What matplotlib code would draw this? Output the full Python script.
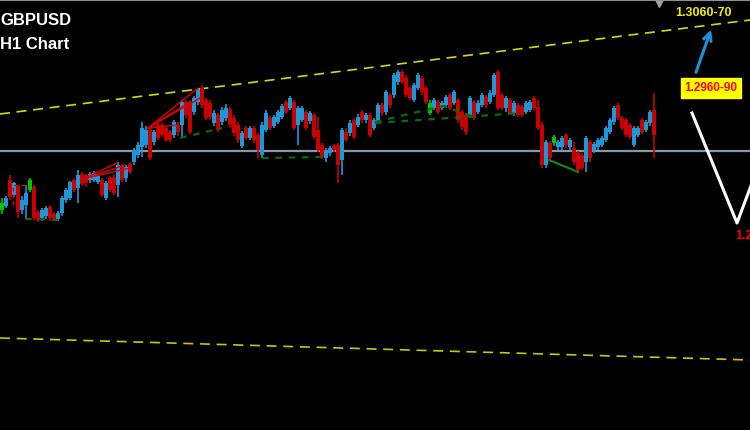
import matplotlib
matplotlib.use("Agg")
import matplotlib.pyplot as plt
from matplotlib.lines import Line2D

# GBPUSD H1 candles (left to right)
opens = [1.2890, 1.2894, 1.2920, 1.2905, 1.2914, 1.2890, 1.2895, 1.2910, 1.2913, 1.2888,
         1.2882, 1.2884, 1.2893, 1.2886, 1.2881, 1.2887, 1.2900, 1.2902, 1.2920, 1.2912,
         1.2926, 1.2925, 1.2920, 1.2920, 1.2918, 1.2920, 1.2902, 1.2922, 1.2923, 1.2915,
         1.2934, 1.2922, 1.2936, 1.2938, 1.2945, 1.2953, 1.2955, 1.2970, 1.2958, 1.2975,
         1.2975, 1.2972, 1.2968, 1.2965, 1.2975, 1.2975, 1.2998, 1.2998, 1.2988, 1.2998,
         1.3012, 1.3000, 1.2997, 1.2977, 1.2985, 1.2978, 1.2982, 1.2990, 1.2982, 1.2975,
         1.2954, 1.2972, 1.2962, 1.2972, 1.2965, 1.2945, 1.2970, 1.2982, 1.2974, 1.2978,
         1.2983, 1.2998, 1.2992, 1.2998, 1.2975, 1.2980, 1.2988, 1.2979, 1.2985, 1.2970,
         1.2955, 1.2942, 1.2947, 1.2954, 1.2955, 1.2940, 1.2968, 1.2967, 1.2980, 1.2975,
         1.2988, 1.2980, 1.2985, 1.2972, 1.2978, 1.2995, 1.2988, 1.3005, 1.3005, 1.3018,
         1.3028, 1.3022, 1.3012, 1.3000, 1.3012, 1.3022, 1.3012, 1.2987, 1.2992, 1.2998,
         1.2992, 1.2995, 1.3005, 1.2997, 1.3000, 1.2988, 1.2985, 1.2985, 1.2998, 1.2988,
         1.2995, 1.3003, 1.2998, 1.3005, 1.3028, 1.3005, 1.2992, 1.3000, 1.2987, 1.2995,
         1.2993, 1.2988, 1.2990, 1.3002, 1.2993, 1.2975, 1.2935, 1.2957, 1.2957, 1.2953,
         1.2953, 1.2965, 1.2953, 1.2952, 1.2947, 1.2945, 1.2938, 1.2958, 1.2950, 1.2953,
         1.2955, 1.2960, 1.2968, 1.2978, 1.2995, 1.2982, 1.2980, 1.2975, 1.2955, 1.2965,
         1.2980, 1.2970, 1.2977, 1.2990]
closes = [1.2897, 1.2902, 1.2903, 1.2917, 1.2888, 1.2900, 1.2907, 1.2920, 1.2882, 1.2880,
          1.2890, 1.2892, 1.2882, 1.2881, 1.2887, 1.2902, 1.2910, 1.2918, 1.2910, 1.2925,
          1.2916, 1.2917, 1.2926, 1.2927, 1.2924, 1.2905, 1.2917, 1.2910, 1.2907, 1.2935,
          1.2920, 1.2933, 1.2928, 1.2950, 1.2955, 1.2972, 1.2970, 1.2942, 1.2968, 1.2962,
          1.2965, 1.2960, 1.2960, 1.2978, 1.2968, 1.2998, 1.2985, 1.2968, 1.3002, 1.3010,
          1.2995, 1.2982, 1.2983, 1.2987, 1.2970, 1.2990, 1.2992, 1.2975, 1.2967, 1.2960,
          1.2967, 1.2962, 1.2972, 1.2960, 1.2950, 1.2975, 1.2987, 1.2972, 1.2983, 1.2988,
          1.2994, 1.2988, 1.3002, 1.2972, 1.2992, 1.2992, 1.2972, 1.2987, 1.2963, 1.2950,
          1.2943, 1.2950, 1.2952, 1.2950, 1.2935, 1.2970, 1.2960, 1.2977, 1.2963, 1.2983,
          1.2980, 1.2985, 1.2965, 1.2980, 1.2995, 1.2987, 1.3008, 1.2995, 1.3025, 1.3028,
          1.3018, 1.3005, 1.3002, 1.3015, 1.3025, 1.3008, 1.2998, 1.2997, 1.3000, 1.2988,
          1.2997, 1.3003, 1.2992, 1.3008, 1.2980, 1.2973, 1.2968, 1.3002, 1.2982, 1.2997,
          1.3005, 1.2995, 1.3007, 1.3025, 1.2992, 1.2992, 1.3002, 1.2987, 1.2997, 1.2985,
          1.2985, 1.2997, 1.2998, 1.2992, 1.2972, 1.2935, 1.2958, 1.2942, 1.2963, 1.2958,
          1.2962, 1.2955, 1.2960, 1.2938, 1.2930, 1.2932, 1.2962, 1.2942, 1.2956, 1.2960,
          1.2962, 1.2972, 1.2980, 1.2992, 1.2982, 1.2972, 1.2965, 1.2963, 1.2972, 1.2972,
          1.2968, 1.2978, 1.2988, 1.2965]
highs = [1.2902, 1.2904, 1.2925, 1.2918, 1.2915, 1.2904, 1.2915, 1.2922, 1.2915, 1.2890,
         1.2892, 1.2894, 1.2895, 1.2888, 1.2889, 1.2904, 1.2912, 1.2919, 1.2922, 1.2930,
         1.2928, 1.2926, 1.2928, 1.2929, 1.2926, 1.2922, 1.2919, 1.2924, 1.2925, 1.2938,
         1.2936, 1.2935, 1.2938, 1.2952, 1.2958, 1.2978, 1.2974, 1.2972, 1.2970, 1.2977,
         1.2977, 1.2974, 1.2970, 1.2980, 1.2978, 1.3000, 1.3000, 1.3000, 1.3004, 1.3012,
         1.3015, 1.3002, 1.3000, 1.2990, 1.2987, 1.2993, 1.2996, 1.2993, 1.2985, 1.2978,
         1.2969, 1.2974, 1.2974, 1.2974, 1.2967, 1.2978, 1.2990, 1.2984, 1.2985, 1.2990,
         1.2996, 1.3000, 1.3004, 1.3000, 1.2994, 1.2994, 1.2990, 1.2989, 1.2987, 1.2983,
         1.2957, 1.2952, 1.2954, 1.2956, 1.2957, 1.2972, 1.2972, 1.2980, 1.2982, 1.2986,
         1.2990, 1.2987, 1.2987, 1.2982, 1.2997, 1.2997, 1.3010, 1.3007, 1.3027, 1.3030,
         1.3030, 1.3025, 1.3014, 1.3017, 1.3027, 1.3024, 1.3014, 1.3000, 1.3002, 1.3000,
         1.2999, 1.3005, 1.3007, 1.3010, 1.3002, 1.2990, 1.2987, 1.3004, 1.3000, 1.3000,
         1.3007, 1.3005, 1.3010, 1.3027, 1.3030, 1.3007, 1.3004, 1.3002, 1.2999, 1.2997,
         1.2995, 1.2999, 1.3000, 1.3004, 1.3000, 1.2978, 1.2960, 1.2959, 1.2965, 1.2960,
         1.2964, 1.2967, 1.2962, 1.2958, 1.2949, 1.2947, 1.2964, 1.2960, 1.2958, 1.2962,
         1.2964, 1.2974, 1.2982, 1.2994, 1.2997, 1.2984, 1.2982, 1.2977, 1.2974, 1.2974,
         1.2982, 1.2980, 1.2990, 1.3007]
lows = [1.2886, 1.2892, 1.2900, 1.2903, 1.2882, 1.2886, 1.2880, 1.2908, 1.2880, 1.2878,
        1.2879, 1.2881, 1.2879, 1.2879, 1.2879, 1.2884, 1.2897, 1.2900, 1.2908, 1.2897,
        1.2914, 1.2913, 1.2917, 1.2918, 1.2916, 1.2903, 1.2900, 1.2908, 1.2905, 1.2903,
        1.2918, 1.2918, 1.2926, 1.2935, 1.2942, 1.2943, 1.2952, 1.2940, 1.2955, 1.2960,
        1.2963, 1.2958, 1.2958, 1.2962, 1.2964, 1.2962, 1.2982, 1.2966, 1.2985, 1.2995,
        1.2992, 1.2980, 1.2980, 1.2974, 1.2968, 1.2975, 1.2979, 1.2972, 1.2964, 1.2957,
        1.2952, 1.2960, 1.2960, 1.2957, 1.2942, 1.2942, 1.2968, 1.2970, 1.2972, 1.2976,
        1.2981, 1.2986, 1.2990, 1.2970, 1.2955, 1.2978, 1.2970, 1.2976, 1.2961, 1.2948,
        1.2941, 1.2938, 1.2944, 1.2948, 1.2917, 1.2925, 1.2958, 1.2964, 1.2961, 1.2973,
        1.2977, 1.2977, 1.2963, 1.2970, 1.2976, 1.2984, 1.2985, 1.2992, 1.3002, 1.3015,
        1.3016, 1.3003, 1.3000, 1.2998, 1.3010, 1.3005, 1.2996, 1.2985, 1.2990, 1.2986,
        1.2990, 1.2992, 1.2990, 1.2995, 1.2977, 1.2970, 1.2965, 1.2982, 1.2980, 1.2986,
        1.2993, 1.2992, 1.2996, 1.3003, 1.2990, 1.2990, 1.2988, 1.2985, 1.2984, 1.2983,
        1.2983, 1.2986, 1.2988, 1.2989, 1.2970, 1.2932, 1.2932, 1.2940, 1.2954, 1.2950,
        1.2950, 1.2952, 1.2950, 1.2935, 1.2928, 1.2930, 1.2928, 1.2938, 1.2947, 1.2950,
        1.2953, 1.2958, 1.2966, 1.2975, 1.2980, 1.2970, 1.2963, 1.2961, 1.2953, 1.2963,
        1.2966, 1.2968, 1.2974, 1.2942]
green_bars = [0, 7, 107, 138]

# levels and drawn objects (candle index, price)
hline_price = 1.2949
channel_top = [(-0.5, 1.2986), (187, 1.3080)]
channel_bottom = [(-0.5, 1.2762), (187, 1.2740)]
green_dashed = [
    [(5.75, 1.2881), (14.5, 1.2880)],
    [(44.5, 1.2962), (55, 1.2972)],
    [(65, 1.2942), (80, 1.2943)],
    [(93.25, 1.2978), (110.25, 1.2994), (118.75, 1.2982)],
    [(93.25, 1.2977), (130, 1.2987)],
]
green_solid = [(136.75, 1.2940), (144, 1.2928)]
red_lines = [
    [(21.25, 1.2923), (28.75, 1.2937)],
    [(21.25, 1.2922), (30.75, 1.2935)],
    [(21.25, 1.2922), (32, 1.2932)],
    [(36.5, 1.2972), (49, 1.3012)],
    [(36.5, 1.2972), (49.5, 1.3002)],
    [(36.5, 1.2972), (45.75, 1.2995)],
    [(36.5, 1.2972), (43.75, 1.2975)],
]
red_dashed = [(2.75, 1.2895), (2.75, 1.2915), (6.5, 1.2915)]
zigzag = [(172.5, 1.2987), (183.75, 1.2877), (187.5, 1.2917)]
arrow_from = (173.25, 1.3025)
arrow_to = (177.5, 1.3073)
target_up = "1.3060-70"
target_mid = "1.2960-90"
target_low = "1.2860"

blue = "#1c98d8"
red = "#c80000"
green = "#00c800"

fig = plt.figure(figsize=(7.5, 4.3), dpi=100)
fig.patch.set_facecolor("black")
ax = fig.add_axes([0, 0, 1, 1])
ax.set_facecolor("black")
ax.set_xlim(-0.5, 187)
ax.set_ylim(1.2670, 1.3100)
ax.axis("off")

ax.axhline(hline_price, color="#8a96a6", lw=1.6, zorder=1)

for pts, c in [(channel_top, "#d8d800"), (channel_bottom, "#c8c800")]:
    ax.plot([p[0] for p in pts], [p[1] for p in pts], color=c, lw=1.2,
            dashes=(6, 4), zorder=2)

xs = list(range(len(closes)))
cols = []
for i in xs:
    if i in green_bars:
        cols.append(green)
    elif closes[i] >= opens[i]:
        cols.append(blue)
    else:
        cols.append(red)
ax.vlines(xs, lows, highs, colors=cols, lw=1.2, zorder=3)
bottoms = [min(o, c) for o, c in zip(opens, closes)]
heights = [abs(c - o) for o, c in zip(opens, closes)]
ax.bar(xs, heights, bottom=bottoms, width=0.78, color=cols, linewidth=0, zorder=4)

for pts in green_dashed:
    ax.plot([p[0] for p in pts], [p[1] for p in pts], color="#0a6a0a", lw=1.6,
            dashes=(3, 3), zorder=5)
ax.plot([p[0] for p in green_solid], [p[1] for p in green_solid], color="#138a13",
        lw=1.5, zorder=5)
for pts in red_lines:
    ax.plot([p[0] for p in pts], [p[1] for p in pts], color="#e00000", lw=1, zorder=5)
ax.plot([p[0] for p in red_dashed], [p[1] for p in red_dashed], color="#e00000",
        lw=1, dashes=(3, 2), zorder=5)

ax.plot([p[0] for p in zigzag], [p[1] for p in zigzag], color="white", lw=2.2,
        zorder=6, clip_on=False)
ax.annotate("", xy=arrow_to, xytext=arrow_from,
            arrowprops=dict(arrowstyle="->", color="#1e8fd8", lw=2.2,
                            mutation_scale=14))

ax.text(175.5, 1.3087, target_up, color="#f0f000", fontsize=9,
        fontweight="bold", family="Liberation Sans", ha="center", va="center")
ax.text(177.2, 1.3012, target_mid, color="#ff0000", fontsize=8.5,
        fontweight="bold", family="Liberation Sans", ha="center", va="center",
        bbox=dict(boxstyle="square,pad=0.3", fc="#ffff00", ec="#ffff00"))
ax.text(183.3, 1.2870, target_low, color="#ff0000", fontsize=9,
        fontweight="bold", family="Liberation Sans", ha="left", va="top")

ax.plot([164.25], [1.3098], marker="v", color="#a0a0a0", markersize=7,
        clip_on=False)

fig.text(0.0, 0.97, "GBPUSD", color="white", fontsize=12, fontweight="bold",
         family="Liberation Sans", va="top")
fig.text(0.0, 0.915, "H1 Chart", color="white", fontsize=12, fontweight="bold",
         family="Liberation Sans", va="top")
fig.add_artist(Line2D([0, 1], [0.999, 0.999], color="#909090", lw=1.5))

fig.savefig("out.png", dpi=100, facecolor="black")
